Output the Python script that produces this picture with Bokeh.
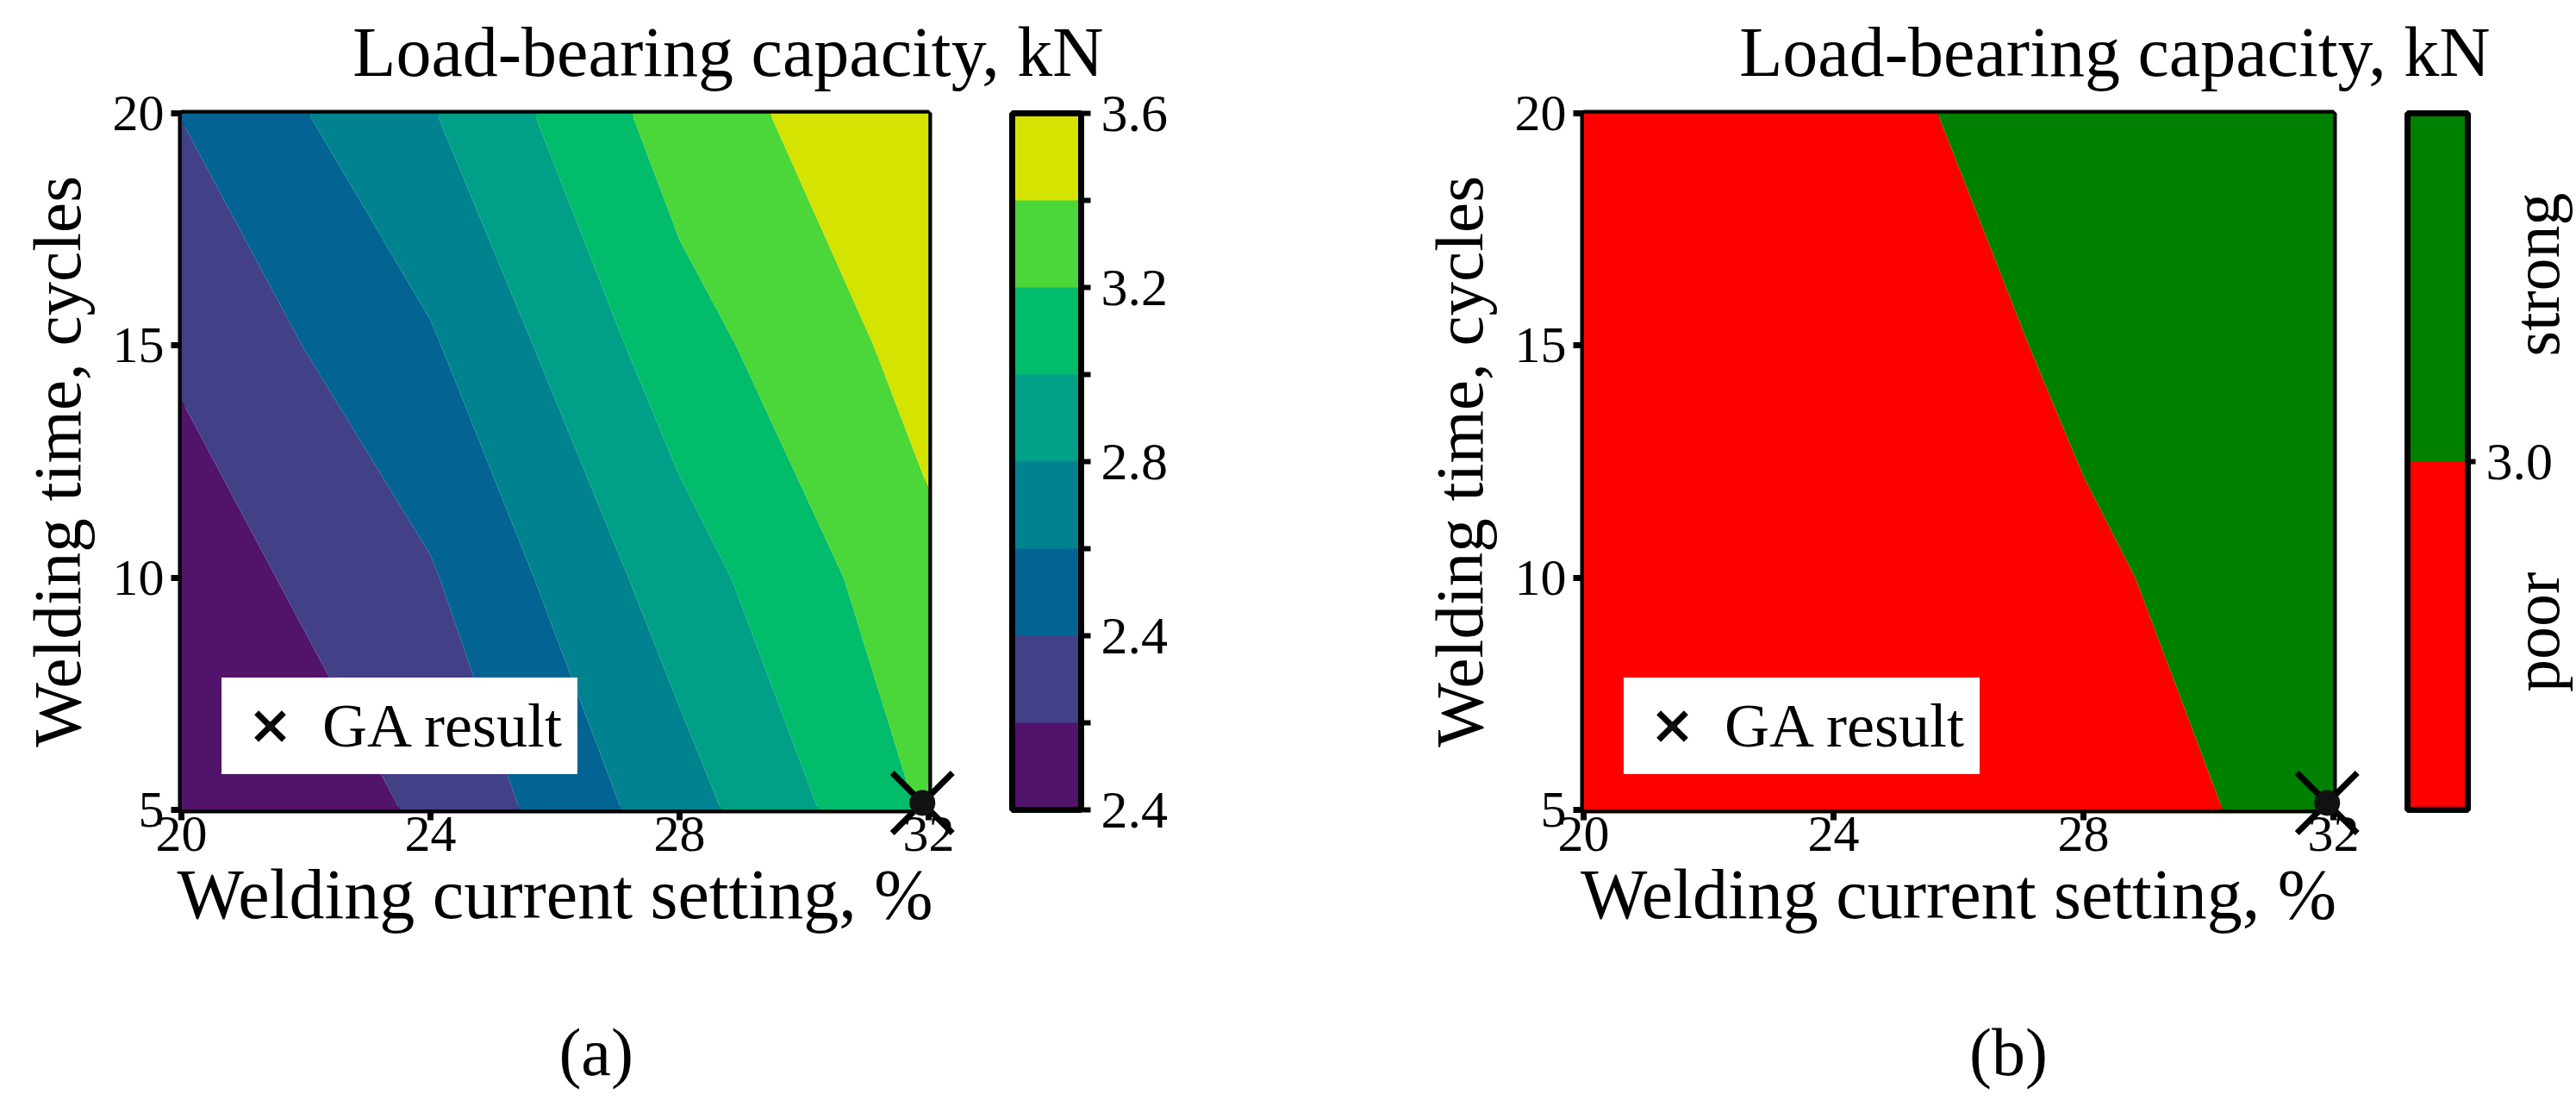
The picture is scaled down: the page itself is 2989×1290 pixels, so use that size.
import numpy as np
from bokeh.plotting import figure
from bokeh.layouts import row
from bokeh.core.properties import value
from bokeh.models import (Range1d, FixedTicker, ColorBar, LinearColorMapper,
                          Legend, LegendItem, CustomJSTickFormatter)
from bokeh.embed import file_html
from bokeh.resources import INLINE

# ---------------- data ----------------
current_setting = [20, 24, 28, 32]          # welding current setting, %
welding_time = [5, 10, 15, 20]              # welding time, cycles
capacity_t5 = [2.020, 2.225, 2.714, 3.227]  # load-bearing capacity, kN
capacity_t10 = [2.089, 2.381, 2.908, 3.351]
capacity_t15 = [2.234, 2.577, 3.118, 3.480]
capacity_t20 = [2.405, 2.787, 3.298, 3.579]

levels_a = [2.0, 2.2, 2.4, 2.6, 2.8, 3.0, 3.2, 3.4, 3.6]
colors_a = ["#52136a", "#424086", "#036493", "#01838f", "#00a088",
            "#00bc6b", "#4bd63a", "#d4e300"]
cbar_a_ticks = [2.0, 2.4, 2.8, 3.2, 3.6]
cbar_a_minor = [2.2, 2.6, 3.0, 3.4]
cbar_a_labels = ["2.4", "2.4", "2.8", "3.2", "3.6"]

levels_b = [2.0, 3.0, 3.6]
colors_b = ["#ff0000", "#008000"]
cbar_b_range = [2.4, 3.6]
cbar_b_ticks = [3.0]
cbar_b_labels = ["3.0"]
class_names = ["poor", "strong"]

ga_current = [31.9]
ga_time = [5.15]

x_ticks = [20, 24, 28, 32]
y_ticks = [5, 10, 15, 20]

FONT = "Liberation Serif"

X, Y = np.meshgrid(np.array(current_setting, float), np.array(welding_time, float))
Z = np.array([capacity_t5, capacity_t10, capacity_t15, capacity_t20], float)


def make_tick_formatter(tk, lb):
    return CustomJSTickFormatter(args=dict(tk=tk, lb=lb), code="""
        let best = 0;
        for (let i = 0; i < tk.length; i++) {
            if (Math.abs(tk[i] - tick) < Math.abs(tk[best] - tick)) best = i;
        }
        return lb[best];
    """)


def add_text(p, xs, ys, texts, size, align="left", angle=0.0, style="normal"):
    p.text(x=xs, y=ys, text=texts, angle=angle, text_align=align,
           text_baseline="alphabetic", text_font=value(FONT),
           text_font_size=size, text_font_style=style, text_color="black",
           level="overlay")


def make_panel(levels, colors, left_border, right_border, frame_w):
    p = figure(frame_width=frame_w, frame_height=808,
               min_border_left=left_border, min_border_right=right_border,
               min_border_top=131, min_border_bottom=351,
               x_range=Range1d(20, 32), y_range=Range1d(5, 20),
               output_backend="svg", toolbar_location=None, tools="")
    p.background_fill_color = "white"
    p.border_fill_color = "white"
    p.outline_line_color = "black"
    p.outline_line_width = 8
    p.outline_line_alpha = 1.0
    p.grid.visible = False

    p.contour(X, Y, Z, levels=levels, fill_color=colors, line_color=None)

    for ax in (p.xaxis[0], p.yaxis[0]):
        ax.axis_line_color = None
        ax.major_tick_line_color = "black"
        ax.major_tick_line_width = 7
        ax.major_tick_in = 0
        ax.major_tick_out = 12
        ax.minor_tick_line_color = None
        ax.major_label_text_font = FONT
        ax.major_label_text_font_size = "60px"
        ax.major_label_text_color = "black"
        ax.axis_label_text_font = FONT
        ax.axis_label_text_font_style = "normal"
        ax.axis_label_text_color = "black"
    p.xaxis[0].axis_label_text_font_size = "82px"
    p.yaxis[0].axis_label_text_font_size = "79px"
    p.xaxis[0].ticker = FixedTicker(ticks=x_ticks)
    p.yaxis[0].ticker = FixedTicker(ticks=y_ticks)
    p.xaxis[0].axis_label = "Welding current setting, %"
    p.yaxis[0].axis_label = "Welding time, cycles"
    p.xaxis[0].major_label_standoff = -4
    p.yaxis[0].major_label_standoff = 8
    p.xaxis[0].axis_label_standoff = 2
    p.yaxis[0].axis_label_standoff = 18

    xr = p.scatter(ga_current, ga_time, marker="x", size=99, line_width=7,
                   line_color="black", level="overlay")
    dr = p.scatter(ga_current, ga_time, marker="dot", size=120, line_color="#111111",
                   level="overlay")
    legend = Legend(items=[LegendItem(label="GA result", renderers=[xr, dr])],
                    location=(47, 41), padding=2, margin=0,
                    glyph_width=112, glyph_height=112, label_standoff=5,
                    label_width=296,
                    label_text_font=FONT, label_text_font_size="72px",
                    label_text_color="black",
                    background_fill_color="white", background_fill_alpha=1.0,
                    border_line_color=None)
    p.add_layout(legend)
    return p


# ---------------- panel (a) ----------------
pa = make_panel(levels_a, colors_a, 210, 418, 867)
cmap_a = LinearColorMapper(palette=colors_a, low=levels_a[0], high=levels_a[-1])
cb_a = ColorBar(color_mapper=cmap_a, location=(964, 0), orientation="vertical",
                width=80, height=808, margin=0, padding=0,
                ticker=FixedTicker(ticks=cbar_a_ticks, minor_ticks=cbar_a_minor),
                formatter=make_tick_formatter(cbar_a_ticks, cbar_a_labels),
                major_tick_line_color="black", major_tick_line_width=6,
                major_tick_in=0, major_tick_out=11,
                minor_tick_line_color="black", minor_tick_line_width=6,
                minor_tick_in=0, minor_tick_out=11,
                bar_line_color="black", bar_line_width=7,
                label_standoff=12,
                major_label_text_font=FONT, major_label_text_font_size="62px",
                major_label_text_color="black",
                background_fill_color=None, border_line_color=None)
pa.add_layout(cb_a)
add_text(pa, [34.81], [21.32], ["Load-bearing capacity, kN"], "82px", align="right")
add_text(pa, [26.66], [-0.22], ["(a)"], "78px", align="center")

# ---------------- panel (b) ----------------
pb = make_panel(levels_b, colors_b, 342, 282, 870)
cmap_b = LinearColorMapper(palette=colors_b, low=cbar_b_range[0], high=cbar_b_range[1])
cb_b = ColorBar(color_mapper=cmap_b, location=(956, 0), orientation="vertical",
                width=70, height=808, margin=0, padding=0,
                ticker=FixedTicker(ticks=cbar_b_ticks),
                formatter=make_tick_formatter(cbar_b_ticks, cbar_b_labels),
                major_tick_line_color="black", major_tick_line_width=6,
                major_tick_in=0, major_tick_out=9,
                minor_tick_line_color=None,
                bar_line_color="black", bar_line_width=7,
                label_standoff=12,
                major_label_text_font=FONT, major_label_text_font_size="62px",
                major_label_text_color="black",
                background_fill_color=None, border_line_color=None)
pb.add_layout(cb_b)
add_text(pb, [34.51], [21.32], ["Load-bearing capacity, kN"], "82px", align="right")
add_text(pb, [35.255, 35.255], [8.825, 16.53], class_names, "76px",
         align="center", angle=np.pi / 2)
add_text(pb, [26.8], [-0.22], ["(b)"], "78px", align="center")

layout = row(pa, pb)
open("out.html", "w").write(file_html(layout, INLINE))
